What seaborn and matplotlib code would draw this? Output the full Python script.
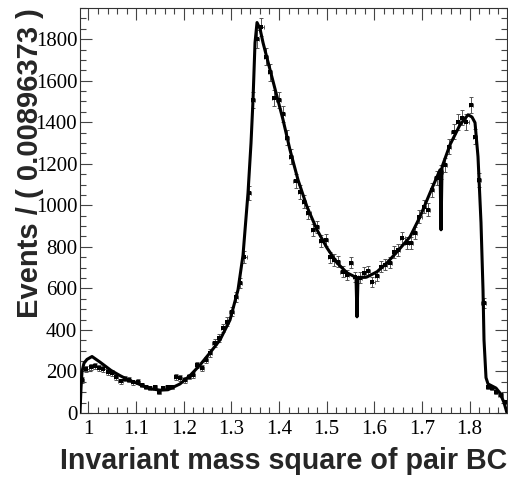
import numpy as np
import matplotlib
matplotlib.use("Agg")
import matplotlib.pyplot as plt
from matplotlib.ticker import MultipleLocator, FixedLocator
import seaborn as sns

# ---- data ----
x_min = 0.9822
bin_width = 0.00896373
counts = [159, 212, 222, 226, 217, 212, 198, 193, 173, 152,
          165, 160, 149, 150, 135, 125, 120, 125, 101, 120,
          125, 125, 173, 169, 159, 175, 183, 231, 217, 255,
          289, 337, 361, 410, 440, 487, 559, 626, 752, 1060,
          1508, 1800, 1860, 1716, 1640, 1518, 1508, 1440, 1325, 1234,
          1118, 1065, 1017, 964, 882, 896, 830, 834, 750, 737,
          728, 680, 665, 723, 655, 651, 675, 684, 631, 660,
          704, 713, 723, 776, 786, 843, 819, 819, 867, 945,
          993, 978, 1075, 1133, 1161, 1195, 1282, 1354, 1402, 1422,
          1402, 1484, 1330, 1123, 530, 125, 120, 100, 87, 53]

curve_x = [0.9822, 0.9843, 0.9864, 0.9906, 0.9969, 1.0074, 1.0242, 1.0473, 1.0662, 1.0830,
           1.0998, 1.1186, 1.1354, 1.1501, 1.1669, 1.1921, 1.2131, 1.2341, 1.2551, 1.2761,
           1.2971, 1.3139, 1.3244, 1.3349, 1.3412, 1.3454, 1.3496, 1.3538, 1.3601, 1.3664,
           1.3811, 1.3958, 1.4084, 1.4230, 1.4398, 1.4587, 1.4797, 1.5007, 1.5217, 1.5427,
           1.5616, 1.5637, 1.5658, 1.5847, 1.6057, 1.6267, 1.6477, 1.6750, 1.6960, 1.7170,
           1.7380, 1.7401, 1.7422, 1.7590, 1.7800, 1.7968, 1.8051, 1.8114, 1.8177, 1.8240,
           1.8282, 1.8303, 1.8345, 1.8387, 1.8471, 1.8555, 1.8639, 1.8723, 1.8786]
curve_y = [0, 120, 200, 240, 258, 272, 245, 205, 180, 160,
           145, 127, 115, 110, 112, 140, 180, 231, 290, 352,
           448, 593, 760, 1060, 1300, 1508, 1783, 1880, 1850, 1783,
           1653, 1523, 1412, 1267, 1123, 993, 882, 795, 723, 675,
           653, 463, 652, 655, 680, 723, 776, 848, 945, 1060,
           1171, 882, 1185, 1292, 1388, 1436, 1425, 1398, 1234, 916,
           593, 352, 170, 140, 130, 120, 96, 50, 0]

x_ticks = [1.0, 1.1, 1.2, 1.3, 1.4, 1.5, 1.6, 1.7, 1.8]
x_tick_labels = ["1", "1.1", "1.2", "1.3", "1.4", "1.5", "1.6", "1.7", "1.8"]
y_ticks = [0, 200, 400, 600, 800, 1000, 1200, 1400, 1600, 1800]

x_label = "Invariant mass square of pair BC"
y_label = "Events / ( 0.00896373 )"

# ---- derived ----
n_bins = len(counts)
centers = x_min + (np.arange(n_bins) + 0.5) * bin_width
x_max = x_min + n_bins * bin_width
counts_arr = np.array(counts, dtype=float)
errs = np.sqrt(counts_arr)

sns.set_style("ticks")
plt.rcParams["font.family"] = ["Liberation Serif", "DejaVu Serif"]

serif = ["Liberation Serif", "DejaVu Serif"]
sans = ["Liberation Sans", "DejaVu Sans"]

fig = plt.figure(figsize=(5.08, 4.80), dpi=100)
ax = fig.add_axes([80 / 508, 1 - 413 / 480, 427 / 508, 405 / 480])

ax.errorbar(centers, counts_arr, yerr=errs, xerr=bin_width / 2, fmt="none",
            ecolor="#555555", elinewidth=0.7, capsize=1.6, capthick=0.7, zorder=2)
sns.scatterplot(x=centers, y=counts_arr, ax=ax, color="black", marker="s",
                s=10, linewidth=0, zorder=3)
sns.lineplot(x=curve_x, y=curve_y, ax=ax, sort=False, estimator=None,
             color="black", linewidth=2.2, zorder=4)

ax.set_xlim(x_min, x_max)
ax.set_ylim(0, 1950)

ax.xaxis.set_major_locator(FixedLocator(x_ticks))
ax.set_xticklabels(x_tick_labels, family=serif, fontsize=15)
ax.xaxis.set_minor_locator(MultipleLocator(0.02))
ax.yaxis.set_major_locator(FixedLocator(y_ticks))
ax.set_yticklabels([str(v) for v in y_ticks], family=serif, fontsize=15)
ax.yaxis.set_minor_locator(MultipleLocator(50))

ax.tick_params(which="both", direction="in", top=True, right=True,
               color="#444444", width=0.8, labelcolor="black")
ax.tick_params(which="major", length=8.5)
ax.tick_params(which="minor", length=4.3)
ax.tick_params(axis="x", which="major", pad=5)
ax.tick_params(axis="y", which="major", pad=2)

for sp in ax.spines.values():
    sp.set_color("#333333")
    sp.set_linewidth(0.8)

ax.set_xlabel(x_label, loc="right", fontsize=20.6, fontweight="bold", family=sans)
ax.set_ylabel(y_label, loc="top", fontsize=21, fontweight="bold", family=sans)
ax.xaxis.set_label_coords(1.0, -0.083)
ax.yaxis.set_label_coords(-0.085, 1.0)

fig.savefig("out.png", dpi=100)
